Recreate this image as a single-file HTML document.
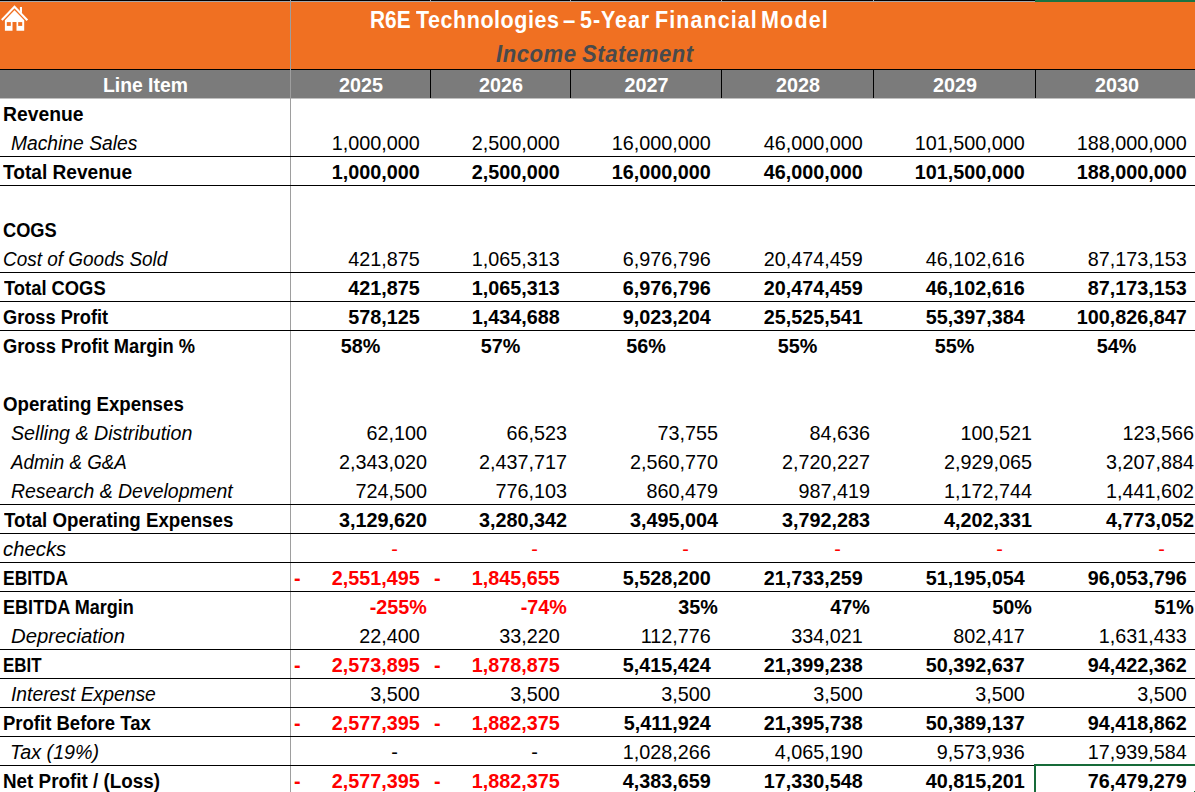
<!DOCTYPE html><html><head><meta charset="utf-8"><style>
*{margin:0;padding:0;box-sizing:border-box}
html,body{width:1195px;height:792px;overflow:hidden;background:#fff}
body{position:relative;font-family:"Liberation Sans",sans-serif;color:#000}
.a{position:absolute;white-space:nowrap;line-height:20px;height:20px}
.hl{position:absolute;left:0;width:1195px;height:1px;background:#000}
.n{font-size:19.8px}
.b{font-weight:bold}.i{font-style:italic}.r{color:#FF0000}
</style></head><body>
<div style="position:absolute;left:0;top:0;width:1195px;height:1px;background:#000"></div>
<div style="position:absolute;left:0;top:1px;width:1195px;height:1px;background:#A4A8AC"></div>
<div style="position:absolute;left:290px;top:0;width:1px;height:1px;background:#A4A8AC"></div>
<div style="position:absolute;left:430px;top:0;width:1px;height:1px;background:#A4A8AC"></div>
<div style="position:absolute;left:570px;top:0;width:1px;height:1px;background:#A4A8AC"></div>
<div style="position:absolute;left:721px;top:0;width:1px;height:1px;background:#A4A8AC"></div>
<div style="position:absolute;left:873px;top:0;width:1px;height:1px;background:#A4A8AC"></div>
<div style="position:absolute;left:1035px;top:0;width:1px;height:1px;background:#A4A8AC"></div>
<div style="position:absolute;left:1035px;top:0;width:160px;height:2px;background:#1A7343"></div>
<div style="position:absolute;left:0;top:2px;width:1195px;height:67px;background:#F07022"></div>
<div class="hl" style="top:69px"></div>
<div style="position:absolute;left:0;top:70px;width:1195px;height:28px;background:#7B7B7B"></div>
<div style="position:absolute;left:0;top:98px;width:1195px;height:1px;background:#C0C0C0"></div>
<div style="position:absolute;left:430px;top:70px;width:1px;height:28px;background:#000"></div>
<div style="position:absolute;left:570px;top:70px;width:1px;height:28px;background:#000"></div>
<div style="position:absolute;left:721px;top:70px;width:1px;height:28px;background:#000"></div>
<div style="position:absolute;left:873px;top:70px;width:1px;height:28px;background:#000"></div>
<div style="position:absolute;left:1035px;top:70px;width:1px;height:28px;background:#000"></div>
<div style="position:absolute;left:290px;top:0;width:1px;height:792px;background:#9E9E9E"></div>
<div class="a b" style="left:369.90px;top:9.72px;font-size:23.9px;color:#fff;letter-spacing:0.000px;transform:scaleX(0.8727);transform-origin:0 0">R6E</div>
<div class="a b" style="left:415.73px;top:9.72px;font-size:23.9px;color:#fff;letter-spacing:0.596px;transform:scaleX(0.9000);transform-origin:0 0">Technologies</div>
<div class="a b" style="left:562.95px;top:9.72px;font-size:23.9px;color:#fff;letter-spacing:0.000px;transform:scaleX(0.9244);transform-origin:0 0">–</div>
<div class="a b" style="left:580.07px;top:9.72px;font-size:23.9px;color:#fff;letter-spacing:1.038px;transform:scaleX(0.9000);transform-origin:0 0">5-Year</div>
<div class="a b" style="left:655.16px;top:9.72px;font-size:23.9px;color:#fff;letter-spacing:1.200px;transform:scaleX(0.9000);transform-origin:0 0">Financial</div>
<div class="a b" style="left:761.16px;top:9.72px;font-size:23.9px;color:#fff;letter-spacing:1.300px;transform:scaleX(0.9000);transform-origin:0 0">Model</div>
<div class="a b i" style="left:495.84px;top:43.58px;font-size:24.3px;color:#484A4C;letter-spacing:0.563px;transform:scaleX(0.9100);transform-origin:0 0">Income</div>
<div class="a b i" style="left:582.03px;top:43.58px;font-size:24.3px;color:#484A4C;letter-spacing:0.580px;transform:scaleX(0.9100);transform-origin:0 0">Statement</div>
<svg style="position:absolute;left:0;top:0" width="30" height="34" viewBox="0 0 30 34">
<path d="M1.8 20.05 L14.5 6.8 L27.35 20.15" fill="none" stroke="#fff" stroke-width="2.1" stroke-linejoin="miter"/>
<path d="M19.9 7 L22 7 L22 13.6 L19.9 11.4 Z" fill="#fff"/>
<path d="M4.9 20.2 L14.5 10.2 L24.2 20.2 L24.2 30.8 L16.5 30.8 L16.5 22.1 L12.5 22.1 L12.5 30.8 L4.9 30.8 Z" fill="#fff"/>
<rect x="6.8" y="22.1" width="4" height="3.8" fill="#F07022"/>
<rect x="18.2" y="22.1" width="4" height="3.8" fill="#F07022"/>
</svg>
<div class="a b" style="left:102.63px;top:75.14px;font-size:19.8px;color:#fff;letter-spacing:0.000px;transform:scaleX(0.9775);transform-origin:0 0">Line Item</div>
<div class="a b n" style="left:291.5px;width:139px;text-align:center;top:75.14px;color:#fff">2025</div>
<div class="a b n" style="left:431.5px;width:139px;text-align:center;top:75.14px;color:#fff">2026</div>
<div class="a b n" style="left:571.5px;width:150px;text-align:center;top:75.14px;color:#fff">2027</div>
<div class="a b n" style="left:722.5px;width:151px;text-align:center;top:75.14px;color:#fff">2028</div>
<div class="a b n" style="left:874.5px;width:161px;text-align:center;top:75.14px;color:#fff">2029</div>
<div class="a b n" style="left:1036.5px;width:161px;text-align:center;top:75.14px;color:#fff">2030</div>
<div class="a b" style="left:2.81px;top:104.24px;font-size:19.5px;transform:scaleX(0.9899);transform-origin:0 0">Revenue</div>
<div class="hl" style="top:156px"></div>
<div class="a i" style="left:11.11px;top:133.24px;font-size:19.5px;transform:scaleX(0.9874);transform-origin:0 0">Machine Sales</div>
<div class="a n" style="right:775.25px;top:133.14px">1,000,000</div>
<div class="a n" style="right:635.25px;top:133.14px">2,500,000</div>
<div class="a n" style="right:484.25px;top:133.14px">16,000,000</div>
<div class="a n" style="right:332.25px;top:133.14px">46,000,000</div>
<div class="a n" style="right:170.25px;top:133.14px">101,500,000</div>
<div class="a n" style="right:8.25px;top:133.14px">188,000,000</div>
<div class="hl" style="top:185px"></div>
<div class="a b" style="left:2.90px;top:162.24px;font-size:19.5px;transform:scaleX(0.9794);transform-origin:0 0">Total Revenue</div>
<div class="a n b" style="right:775.25px;top:162.14px">1,000,000</div>
<div class="a n b" style="right:635.25px;top:162.14px">2,500,000</div>
<div class="a n b" style="right:484.25px;top:162.14px">16,000,000</div>
<div class="a n b" style="right:332.25px;top:162.14px">46,000,000</div>
<div class="a n b" style="right:170.25px;top:162.14px">101,500,000</div>
<div class="a n b" style="right:8.25px;top:162.14px">188,000,000</div>
<div class="a b" style="left:3.05px;top:220.24px;font-size:19.5px;transform:scaleX(0.9356);transform-origin:0 0">COGS</div>
<div class="hl" style="top:272px"></div>
<div class="a i" style="left:3.13px;top:249.24px;font-size:19.5px;transform:scaleX(0.9721);transform-origin:0 0">Cost of Goods Sold</div>
<div class="a n" style="right:775.25px;top:249.14px">421,875</div>
<div class="a n" style="right:635.25px;top:249.14px">1,065,313</div>
<div class="a n" style="right:484.25px;top:249.14px">6,976,796</div>
<div class="a n" style="right:332.25px;top:249.14px">20,474,459</div>
<div class="a n" style="right:170.25px;top:249.14px">46,102,616</div>
<div class="a n" style="right:8.25px;top:249.14px">87,173,153</div>
<div class="hl" style="top:301px"></div>
<div class="a b" style="left:3.61px;top:278.24px;font-size:19.5px;transform:scaleX(0.9412);transform-origin:0 0">Total COGS</div>
<div class="a n b" style="right:775.25px;top:278.14px">421,875</div>
<div class="a n b" style="right:635.25px;top:278.14px">1,065,313</div>
<div class="a n b" style="right:484.25px;top:278.14px">6,976,796</div>
<div class="a n b" style="right:332.25px;top:278.14px">20,474,459</div>
<div class="a n b" style="right:170.25px;top:278.14px">46,102,616</div>
<div class="a n b" style="right:8.25px;top:278.14px">87,173,153</div>
<div class="hl" style="top:330px"></div>
<div class="a b" style="left:3.45px;top:307.24px;font-size:19.5px;transform:scaleX(0.9329);transform-origin:0 0">Gross Profit</div>
<div class="a n b" style="right:775.25px;top:307.14px">578,125</div>
<div class="a n b" style="right:635.25px;top:307.14px">1,434,688</div>
<div class="a n b" style="right:484.25px;top:307.14px">9,023,204</div>
<div class="a n b" style="right:332.25px;top:307.14px">25,525,541</div>
<div class="a n b" style="right:170.25px;top:307.14px">55,397,384</div>
<div class="a n b" style="right:8.25px;top:307.14px">100,826,847</div>
<div class="a b" style="left:3.45px;top:336.24px;font-size:19.5px;transform:scaleX(0.9381);transform-origin:0 0">Gross Profit Margin %</div>
<div class="a n b" style="left:291px;width:139px;text-align:center;top:336.14px">58%</div>
<div class="a n b" style="left:431px;width:139px;text-align:center;top:336.14px">57%</div>
<div class="a n b" style="left:571px;width:150px;text-align:center;top:336.14px">56%</div>
<div class="a n b" style="left:722px;width:151px;text-align:center;top:336.14px">55%</div>
<div class="a n b" style="left:874px;width:161px;text-align:center;top:336.14px">55%</div>
<div class="a n b" style="left:1036px;width:161px;text-align:center;top:336.14px">54%</div>
<div class="a b" style="left:3.43px;top:394.24px;font-size:19.5px;transform:scaleX(0.9588);transform-origin:0 0">Operating Expenses</div>
<div class="a i" style="left:10.90px;top:423.24px;font-size:19.5px;transform:scaleX(1.0078);transform-origin:0 0">Selling &amp; Distribution</div>
<div class="a n" style="right:768.05px;top:423.14px">62,100</div>
<div class="a n" style="right:628.05px;top:423.14px">66,523</div>
<div class="a n" style="right:477.05px;top:423.14px">73,755</div>
<div class="a n" style="right:325.05px;top:423.14px">84,636</div>
<div class="a n" style="right:163.05px;top:423.14px">100,521</div>
<div class="a n" style="right:1.05px;top:423.14px">123,566</div>
<div class="a i" style="left:11.37px;top:452.24px;font-size:19.5px;transform:scaleX(0.9626);transform-origin:0 0">Admin &amp; G&amp;A</div>
<div class="a n" style="right:768.05px;top:452.14px">2,343,020</div>
<div class="a n" style="right:628.05px;top:452.14px">2,437,717</div>
<div class="a n" style="right:477.05px;top:452.14px">2,560,770</div>
<div class="a n" style="right:325.05px;top:452.14px">2,720,227</div>
<div class="a n" style="right:163.05px;top:452.14px">2,929,065</div>
<div class="a n" style="right:1.05px;top:452.14px">3,207,884</div>
<div class="hl" style="top:504px"></div>
<div class="a i" style="left:10.90px;top:481.24px;font-size:19.5px;transform:scaleX(0.9978);transform-origin:0 0">Research &amp; Development</div>
<div class="a n" style="right:768.05px;top:481.14px">724,500</div>
<div class="a n" style="right:628.05px;top:481.14px">776,103</div>
<div class="a n" style="right:477.05px;top:481.14px">860,479</div>
<div class="a n" style="right:325.05px;top:481.14px">987,419</div>
<div class="a n" style="right:163.05px;top:481.14px">1,172,744</div>
<div class="a n" style="right:1.05px;top:481.14px">1,441,602</div>
<div class="hl" style="top:533px"></div>
<div class="a b" style="left:3.61px;top:510.24px;font-size:19.5px;transform:scaleX(0.9589);transform-origin:0 0">Total Operating Expenses</div>
<div class="a n b" style="right:768.05px;top:510.14px">3,129,620</div>
<div class="a n b" style="right:628.05px;top:510.14px">3,280,342</div>
<div class="a n b" style="right:477.05px;top:510.14px">3,495,004</div>
<div class="a n b" style="right:325.05px;top:510.14px">3,792,283</div>
<div class="a n b" style="right:163.05px;top:510.14px">4,202,331</div>
<div class="a n b" style="right:1.05px;top:510.14px">4,773,052</div>
<div class="hl" style="top:562px"></div>
<div class="a i" style="left:3.17px;top:539.24px;font-size:19.5px;transform:scaleX(1.0419);transform-origin:0 0">checks</div>
<div class="a n r" style="right:797.25px;top:539.14px">-</div>
<div class="a n r" style="right:657.25px;top:539.14px">-</div>
<div class="a n r" style="right:506.25px;top:539.14px">-</div>
<div class="a n r" style="right:354.25px;top:539.14px">-</div>
<div class="a n r" style="right:192.25px;top:539.14px">-</div>
<div class="a n r" style="right:30.25px;top:539.14px">-</div>
<div class="hl" style="top:591px"></div>
<div class="a b" style="left:3.04px;top:568.24px;font-size:19.5px;transform:scaleX(0.8955);transform-origin:0 0">EBITDA</div>
<div class="a n b r" style="right:775.25px;top:568.14px">2,551,495</div>
<div class="a n b r" style="left:294.00px;top:568.14px">-</div>
<div class="a n b r" style="right:635.25px;top:568.14px">1,845,655</div>
<div class="a n b r" style="left:434.00px;top:568.14px">-</div>
<div class="a n b" style="right:484.25px;top:568.14px">5,528,200</div>
<div class="a n b" style="right:332.25px;top:568.14px">21,733,259</div>
<div class="a n b" style="right:170.25px;top:568.14px">51,195,054</div>
<div class="a n b" style="right:8.25px;top:568.14px">96,053,796</div>
<div class="a b" style="left:2.99px;top:597.24px;font-size:19.5px;transform:scaleX(0.9272);transform-origin:0 0">EBITDA Margin</div>
<div class="a n b r" style="right:768.05px;top:597.14px">-255%</div>
<div class="a n b r" style="right:628.05px;top:597.14px">-74%</div>
<div class="a n b" style="right:477.05px;top:597.14px">35%</div>
<div class="a n b" style="right:325.05px;top:597.14px">47%</div>
<div class="a n b" style="right:163.05px;top:597.14px">50%</div>
<div class="a n b" style="right:1.05px;top:597.14px">51%</div>
<div class="hl" style="top:649px"></div>
<div class="a i" style="left:11.48px;top:626.24px;font-size:19.5px;transform:scaleX(1.0407);transform-origin:0 0">Depreciation</div>
<div class="a n" style="right:775.25px;top:626.14px">22,400</div>
<div class="a n" style="right:635.25px;top:626.14px">33,220</div>
<div class="a n" style="right:484.25px;top:626.14px">112,776</div>
<div class="a n" style="right:332.25px;top:626.14px">334,021</div>
<div class="a n" style="right:170.25px;top:626.14px">802,417</div>
<div class="a n" style="right:8.25px;top:626.14px">1,631,433</div>
<div class="hl" style="top:678px"></div>
<div class="a b" style="left:3.07px;top:655.24px;font-size:19.5px;transform:scaleX(0.8671);transform-origin:0 0">EBIT</div>
<div class="a n b r" style="right:775.25px;top:655.14px">2,573,895</div>
<div class="a n b r" style="left:294.00px;top:655.14px">-</div>
<div class="a n b r" style="right:635.25px;top:655.14px">1,878,875</div>
<div class="a n b r" style="left:434.00px;top:655.14px">-</div>
<div class="a n b" style="right:484.25px;top:655.14px">5,415,424</div>
<div class="a n b" style="right:332.25px;top:655.14px">21,399,238</div>
<div class="a n b" style="right:170.25px;top:655.14px">50,392,637</div>
<div class="a n b" style="right:8.25px;top:655.14px">94,422,362</div>
<div class="hl" style="top:707px"></div>
<div class="a i" style="left:10.71px;top:684.24px;font-size:19.5px;transform:scaleX(0.9896);transform-origin:0 0">Interest Expense</div>
<div class="a n" style="right:775.25px;top:684.14px">3,500</div>
<div class="a n" style="right:635.25px;top:684.14px">3,500</div>
<div class="a n" style="right:484.25px;top:684.14px">3,500</div>
<div class="a n" style="right:332.25px;top:684.14px">3,500</div>
<div class="a n" style="right:170.25px;top:684.14px">3,500</div>
<div class="a n" style="right:8.25px;top:684.14px">3,500</div>
<div class="hl" style="top:736px"></div>
<div class="a b" style="left:2.97px;top:713.24px;font-size:19.5px;transform:scaleX(0.9494);transform-origin:0 0">Profit Before Tax</div>
<div class="a n b r" style="right:775.25px;top:713.14px">2,577,395</div>
<div class="a n b r" style="left:294.00px;top:713.14px">-</div>
<div class="a n b r" style="right:635.25px;top:713.14px">1,882,375</div>
<div class="a n b r" style="left:434.00px;top:713.14px">-</div>
<div class="a n b" style="right:484.25px;top:713.14px">5,411,924</div>
<div class="a n b" style="right:332.25px;top:713.14px">21,395,738</div>
<div class="a n b" style="right:170.25px;top:713.14px">50,389,137</div>
<div class="a n b" style="right:8.25px;top:713.14px">94,418,862</div>
<div class="hl" style="top:765px"></div>
<div class="a i" style="left:9.68px;top:742.24px;font-size:19.5px;transform:scaleX(1.0117);transform-origin:0 0">Tax (19%)</div>
<div class="a n" style="right:797.25px;top:742.14px">-</div>
<div class="a n" style="right:657.25px;top:742.14px">-</div>
<div class="a n" style="right:484.25px;top:742.14px">1,028,266</div>
<div class="a n" style="right:332.25px;top:742.14px">4,065,190</div>
<div class="a n" style="right:170.25px;top:742.14px">9,573,936</div>
<div class="a n" style="right:8.25px;top:742.14px">17,939,584</div>
<div class="hl" style="top:794px"></div>
<div class="a b" style="left:2.94px;top:771.24px;font-size:19.5px;transform:scaleX(0.9663);transform-origin:0 0">Net Profit / (Loss)</div>
<div class="a n b r" style="right:775.25px;top:771.14px">2,577,395</div>
<div class="a n b r" style="left:294.00px;top:771.14px">-</div>
<div class="a n b r" style="right:635.25px;top:771.14px">1,882,375</div>
<div class="a n b r" style="left:434.00px;top:771.14px">-</div>
<div class="a n b" style="right:484.25px;top:771.14px">4,383,659</div>
<div class="a n b" style="right:332.25px;top:771.14px">17,330,548</div>
<div class="a n b" style="right:170.25px;top:771.14px">40,815,201</div>
<div class="a n b" style="right:8.25px;top:771.14px">76,479,279</div>
<div style="position:absolute;left:1034px;top:764px;width:200px;height:2px;background:#166B39"></div>
<div style="position:absolute;left:1034px;top:764px;width:2px;height:40px;background:#166B39"></div>
<div style="position:absolute;left:1194px;top:791px;width:1px;height:1px;background:#166B39"></div>
</body></html>
